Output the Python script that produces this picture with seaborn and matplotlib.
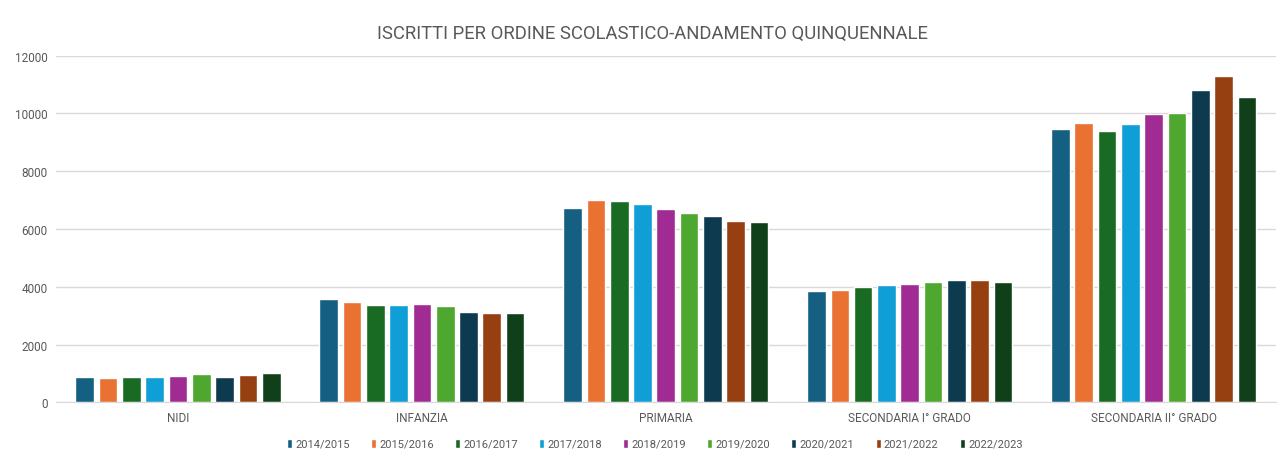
import pandas as pd
import seaborn as sns
import matplotlib.pyplot as plt

# --- data ---
ordini = ["NIDI", "INFANZIA", "PRIMARIA", "SECONDARIA I° GRADO", "SECONDARIA II° GRADO"]
anni = ["2014/2015", "2015/2016", "2016/2017", "2017/2018", "2018/2019",
        "2019/2020", "2020/2021", "2021/2022", "2022/2023"]

nidi = [876, 841, 876, 876, 911, 980, 876, 945, 1015]
infanzia = [3576, 3473, 3369, 3369, 3403, 3334, 3126, 3092, 3092]
primaria = [6727, 7004, 6969, 6865, 6692, 6554, 6450, 6277, 6242]
secondaria_1 = [3853, 3888, 3992, 4061, 4096, 4165, 4234, 4234, 4165]
secondaria_2 = [9462, 9669, 9393, 9635, 9981, 10016, 10812, 11297, 10570]

colori = ["#156082", "#E97132", "#196B24", "#0F9ED5", "#A02B93",
          "#4EA72E", "#0E3A50", "#964011", "#10401A"]

# --- long format for seaborn ---
rows = []
for ordine, valori in zip(ordini, [nidi, infanzia, primaria, secondaria_1, secondaria_2]):
    for anno, v in zip(anni, valori):
        rows.append({"ordine": ordine, "anno": anno, "iscritti": v})
df = pd.DataFrame(rows)

sns.set_style("white")
plt.rcParams['font.family'] = ['Roboto', 'DejaVu Sans']
grey = "#595959"

fig, ax = plt.subplots(figsize=(12.84, 4.6), dpi=100)
fig.subplots_adjust(left=0.0436, right=0.9935, top=0.877, bottom=0.123)

sns.barplot(data=df, x="ordine", y="iscritti", hue="anno", order=ordini,
            hue_order=anni, palette=colori, width=0.86, gap=0.2,
            saturation=1, errorbar=None, ax=ax)

ax.set_ylim(0, 12000)
ax.set_yticks(range(0, 12001, 2000))
ax.yaxis.grid(True, color="#D9D9D9", linewidth=1)
ax.set_axisbelow(True)
for s in ["top", "right", "left"]:
    ax.spines[s].set_visible(False)
ax.spines["bottom"].set_color("#D9D9D9")
ax.tick_params(axis="both", length=0, labelsize=8.5, labelcolor=grey, pad=6)
ax.set_xlabel("")
ax.set_ylabel("")

ax.set_title("ISCRITTI PER ORDINE SCOLASTICO-ANDAMENTO QUINQUENNALE",
             fontsize=13.3, color=grey, pad=13, x=0.489)

ax.legend_.remove()
handles, labels = ax.get_legend_handles_labels()
fig.legend(handles, labels, loc="lower center", bbox_to_anchor=(0.51, 0.0),
           ncol=9, frameon=False, fontsize=8, labelcolor=grey,
           handlelength=0.45, handleheight=0.9, handletextpad=0.3,
           columnspacing=1.9)

fig.savefig("out.png", dpi=100)
